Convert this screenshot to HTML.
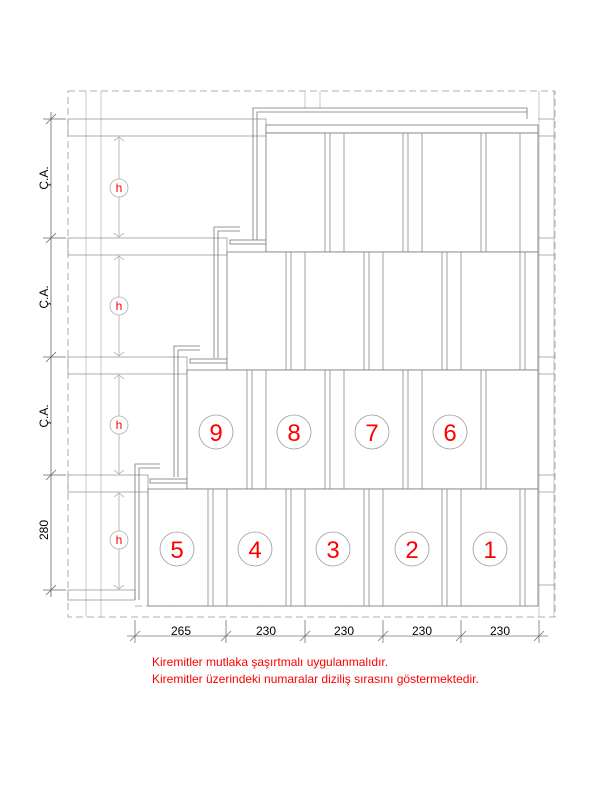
<!DOCTYPE html>
<html><head><style>body{margin:0;background:#fff}svg{display:block}</style></head><body>
<svg width="600" height="800" xmlns="http://www.w3.org/2000/svg" font-family="Liberation Sans, sans-serif">
<rect width="600" height="800" fill="#fff"/>
<rect x="68" y="91" width="487" height="526" fill="none" stroke="#999" stroke-width="0.8" stroke-dasharray="7,4"/>
<line x1="135" y1="606" x2="520" y2="606" stroke="#999" stroke-width="0.8" stroke-dasharray="7,4"/>
<g stroke="#bbb" stroke-width="0.8"><line x1="86" y1="91" x2="86" y2="617"/><line x1="101" y1="91" x2="101" y2="617"/>
<line x1="305" y1="91" x2="305" y2="108"/><line x1="320" y1="91" x2="320" y2="108"/>
<line x1="539" y1="91" x2="539" y2="617"/><line x1="554" y1="91" x2="554" y2="617"/></g>
<g fill="none" stroke="#999" stroke-width="0.8">
<rect x="68" y="119" width="198" height="17"/>
<rect x="68" y="238" width="159" height="17"/>
<rect x="68" y="357" width="119" height="17"/>
<rect x="68" y="475" width="80" height="17"/>
<rect x="68" y="590" width="67" height="10"/>
<line x1="538" y1="119" x2="555" y2="119"/><line x1="538" y1="136" x2="555" y2="136"/>
<line x1="538" y1="238" x2="555" y2="238"/><line x1="538" y1="255" x2="555" y2="255"/>
<line x1="538" y1="357" x2="555" y2="357"/><line x1="538" y1="374" x2="555" y2="374"/>
<line x1="538" y1="475" x2="555" y2="475"/><line x1="538" y1="492" x2="555" y2="492"/>
<line x1="538" y1="585" x2="555" y2="585"/>
</g>
<g stroke="#aaa" fill="none" stroke-width="0.8">
<line x1="119" y1="137" x2="119" y2="237"/><line x1="119" y1="256" x2="119" y2="356"/>
<line x1="119" y1="375" x2="119" y2="474"/><line x1="119" y1="493" x2="119" y2="589"/>
<path d="M114 141l5-4 5 4M114 233l5 4 5-4M114 260l5-4 5 4M114 352l5 4 5-4M114 379l5-4 5 4M114 470l5 4 5-4M114 497l5-4 5 4M114 585l5 4 5-4"/>
<circle cx="119" cy="188" r="9" fill="#fff"/><circle cx="119" cy="306" r="9" fill="#fff"/>
<circle cx="119" cy="425" r="9" fill="#fff"/><circle cx="119" cy="540" r="9" fill="#fff"/>
</g>
<g fill="red" font-size="12" text-anchor="middle">
<text x="119" y="192">h</text><text x="119" y="310">h</text><text x="119" y="429">h</text><text x="119" y="544">h</text></g>
<g stroke="#666" stroke-width="0.8"><line x1="51" y1="112" x2="51" y2="597"/>
<line x1="43" y1="119" x2="66" y2="119"/><line x1="43" y1="238" x2="66" y2="238"/><line x1="43" y1="357" x2="66" y2="357"/><line x1="43" y1="475" x2="66" y2="475"/><line x1="43" y1="590" x2="66" y2="590"/>
<path d="M46 124l10-10M46 243l10-10M46 362l10-10M46 480l10-10M46 595l10-10"/></g>
<g font-size="12" fill="#000" text-anchor="middle">
<text transform="translate(48,178) rotate(-90)">Ç.A.</text>
<text transform="translate(48,297) rotate(-90)">Ç.A.</text>
<text transform="translate(48,416) rotate(-90)">Ç.A.</text>
<text transform="translate(48,530) rotate(-90)">280</text></g>
<g fill="#fff" stroke="#777" stroke-width="0.8">
<path d="M253 240V108H527V119" fill="none"/><path d="M257 240V112H527" fill="none"/>
<rect x="266" y="125" width="272" height="8"/>
<path d="M214 358V227H240" fill="none"/><path d="M218 358V231H240" fill="none"/>
<rect x="230" y="240" width="37" height="4"/>
<path d="M174 477V346H200" fill="none"/><path d="M178 477V350H200" fill="none"/>
<rect x="190" y="359" width="37" height="4"/>
<path d="M135 600V464H160" fill="none"/><path d="M139 600V468H160" fill="none"/>
<rect x="150" y="479" width="37" height="4"/>
<rect x="266" y="133" width="272" height="119"/>
<rect x="227" y="252" width="311" height="118"/>
<rect x="187" y="370" width="351" height="119"/>
<rect x="148" y="489" width="390" height="117"/>
</g>
<g stroke="#888" stroke-width="0.8">
<path d="M325 133V252M330 133V252M344 133V252M403 133V252M408 133V252M422 133V252M481 133V252M486 133V252M520 133V252"/>
<path d="M286 252V370M291 252V370M305 252V370M364 252V370M369 252V370M383 252V370M442 252V370M447 252V370M461 252V370M520 252V370M525 252V370"/>
<path d="M247 370V489M252 370V489M266 370V489M325 370V489M330 370V489M344 370V489M403 370V489M408 370V489M422 370V489M481 370V489M486 370V489"/>
<path d="M208 489V606M213 489V606M227 489V606M286 489V606M291 489V606M305 489V606M364 489V606M369 489V606M383 489V606M442 489V606M447 489V606M461 489V606M520 489V606M525 489V606"/>
</g>
<g fill="none" stroke="#999" stroke-width="0.8">
<circle cx="177" cy="549" r="17"/><circle cx="255" cy="549" r="17"/><circle cx="333" cy="549" r="17"/><circle cx="412" cy="549" r="17"/><circle cx="490" cy="549" r="17"/>
<circle cx="216" cy="432" r="17"/><circle cx="294" cy="432" r="17"/><circle cx="372" cy="432" r="17"/><circle cx="450" cy="432" r="17"/></g>
<g fill="red" font-size="24" text-anchor="middle">
<text x="177" y="558">5</text><text x="255" y="558">4</text><text x="333" y="558">3</text><text x="412" y="558">2</text><text x="490" y="558">1</text>
<text x="216" y="441">9</text><text x="294" y="441">8</text><text x="372" y="441">7</text><text x="450" y="441">6</text></g>
<g stroke="#777" stroke-width="0.8"><line x1="127" y1="636" x2="548" y2="636"/>
<path d="M135 620V643M226 620V643M305 620V643M383 620V643M461 620V643M539 620V643"/>
<path d="M130 641l10-10M221 641l10-10M300 641l10-10M378 641l10-10M456 641l10-10M534 641l10-10"/></g>
<g font-size="12" text-anchor="middle" fill="#000">
<text x="181" y="635">265</text><text x="266" y="635">230</text><text x="344" y="635">230</text><text x="422" y="635">230</text><text x="500" y="635">230</text></g>
<g fill="red" font-size="12"><text x="152" y="666">Kiremitler mutlaka şaşırtmalı uygulanmalıdır.</text>
<text x="152" y="683">Kiremitler üzerindeki numaralar diziliş sırasını göstermektedir.</text></g>
</svg>
</body></html>
